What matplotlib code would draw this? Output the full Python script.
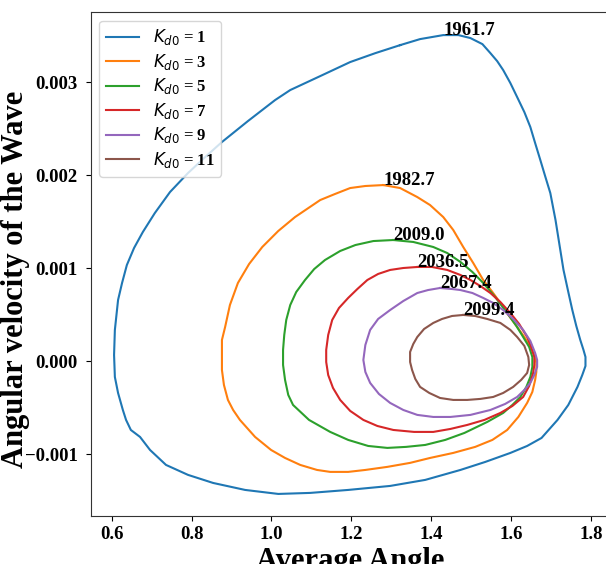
import matplotlib
matplotlib.use("Agg")
import matplotlib.pyplot as plt
import numpy as np

plt.rcParams['font.family'] = ['Liberation Serif', 'DejaVu Serif']

kd0 = [1, 3, 5, 7, 9, 11]
peak_labels = ['1961.7', '1982.7', '2009.0', '2036.5', '2067.4', '2099.4']

# (average angle, angular velocity) points
x1 = [1.322, 1.372, 1.430, 1.468, 1.498, 1.528, 1.548, 1.565, 1.580, 1.598, 1.615, 1.633, 1.648,
      1.660, 1.673, 1.685, 1.698, 1.711, 1.721, 1.731, 1.743, 1.753, 1.763, 1.773, 1.781, 1.786,
      1.786, 1.778, 1.766, 1.743, 1.716, 1.676, 1.640, 1.598, 1.535, 1.473, 1.385, 1.297, 1.192,
      1.097, 1.017, 0.934, 0.854, 0.791, 0.736, 0.696, 0.671, 0.648, 0.636, 0.628, 0.616, 0.608,
      0.606, 0.608, 0.616, 0.626, 0.638, 0.656, 0.678, 0.708, 0.746, 0.791, 0.834, 0.876, 0.941,
      1.009, 1.047, 1.122, 1.197, 1.260, 1.322]
y1 = [0.003398, 0.003463, 0.003506, 0.003506, 0.003474, 0.003409, 0.003312, 0.003226, 0.003130,
      0.002990, 0.002839, 0.002678, 0.002517, 0.002345, 0.002162, 0.001990, 0.001807, 0.001517,
      0.001248, 0.000980, 0.000743, 0.000550, 0.000378, 0.000227, 0.000120, 0.000044, -0.000053,
      -0.000150, -0.000278, -0.000472, -0.000633, -0.000827, -0.000913, -0.000988, -0.001085,
      -0.001171, -0.001278, -0.001343, -0.001386, -0.001418, -0.001429, -0.001386, -0.001311,
      -0.001224, -0.001117, -0.000956, -0.000816, -0.000741, -0.000633, -0.000526, -0.000343,
      -0.000171, 0.000066, 0.000335, 0.000657, 0.000840, 0.001033, 0.001216, 0.001388, 0.001592,
      0.001818, 0.002022, 0.002194, 0.002356, 0.002581, 0.002807, 0.002915, 0.003065, 0.003216,
      0.003312, 0.003398]

x3 = [1.280, 1.322, 1.365, 1.397, 1.430, 1.455, 1.480, 1.505, 1.530, 1.553, 1.573, 1.593, 1.615,
      1.633, 1.648, 1.658, 1.663, 1.663, 1.660, 1.653, 1.640, 1.618, 1.590, 1.553, 1.510, 1.455,
      1.397, 1.347, 1.290, 1.235, 1.192, 1.147, 1.114, 1.072, 1.034, 0.999, 0.959, 0.921, 0.904,
      0.891, 0.881, 0.876, 0.876, 0.876, 0.884, 0.896, 0.916, 0.944, 0.977, 1.017, 1.059, 1.122,
      1.159, 1.197, 1.235, 1.280]
y3 = [0.001893, 0.001861, 0.001764, 0.001678, 0.001549, 0.001410, 0.001227, 0.001055, 0.000872,
      0.000743, 0.000625, 0.000496, 0.000367, 0.000259, 0.000152, 0.000066, -0.000020, -0.000117,
      -0.000203, -0.000332, -0.000450, -0.000601, -0.000741, -0.000848, -0.000923, -0.000988,
      -0.001042, -0.001095, -0.001138, -0.001171, -0.001192, -0.001192, -0.001171, -0.001117,
      -0.001042, -0.000956, -0.000816, -0.000633, -0.000526, -0.000418, -0.000257, -0.000096,
      0.000066, 0.000227, 0.000367, 0.000603, 0.000840, 0.001044, 0.001227, 0.001399, 0.001549,
      0.001732, 0.001797, 0.001861, 0.001883, 0.001893]

x5 = [1.305, 1.355, 1.405, 1.440, 1.473, 1.503, 1.530, 1.560, 1.590, 1.613, 1.630, 1.645, 1.653,
      1.653, 1.648, 1.638, 1.623, 1.603, 1.580, 1.540, 1.483, 1.435, 1.385, 1.337, 1.290, 1.242,
      1.192, 1.147, 1.094, 1.054, 1.042, 1.034, 1.029, 1.029, 1.032, 1.037, 1.047, 1.062, 1.084,
      1.107, 1.134, 1.172, 1.210, 1.255, 1.305]
y5 = [0.001302, 0.001281, 0.001227, 0.001162, 0.001066, 0.000958, 0.000840, 0.000689, 0.000517,
      0.000378, 0.000259, 0.000152, 0.000044, -0.000063, -0.000171, -0.000278, -0.000386,
      -0.000472, -0.000558, -0.000655, -0.000773, -0.000848, -0.000902, -0.000923, -0.000934,
      -0.000913, -0.000848, -0.000762, -0.000633, -0.000472, -0.000364, -0.000203, -0.000042,
      0.000120, 0.000281, 0.000442, 0.000603, 0.000743, 0.000872, 0.000990, 0.001087, 0.001184,
      0.001248, 0.001291, 0.001302]

x7 = [1.365, 1.402, 1.440, 1.473, 1.498, 1.523, 1.548, 1.573, 1.598, 1.620, 1.640, 1.650, 1.658,
      1.658, 1.655, 1.645, 1.630, 1.603, 1.573, 1.533, 1.490, 1.448, 1.405, 1.357, 1.305, 1.265,
      1.230, 1.197, 1.172, 1.154, 1.142, 1.137, 1.137, 1.142, 1.152, 1.169, 1.192, 1.215, 1.240,
      1.267, 1.297, 1.330, 1.365]
y7 = [0.001012, 0.001012, 0.000980, 0.000926, 0.000872, 0.000807, 0.000732, 0.000635, 0.000517,
      0.000399, 0.000259, 0.000152, 0.000044, -0.000042, -0.000128, -0.000268, -0.000386,
      -0.000483, -0.000558, -0.000633, -0.000687, -0.000730, -0.000762, -0.000762, -0.000741,
      -0.000698, -0.000633, -0.000536, -0.000418, -0.000289, -0.000150, -0.000010, 0.000120,
      0.000281, 0.000442, 0.000571, 0.000679, 0.000775, 0.000872, 0.000937, 0.000980, 0.001001,
      0.001012]

x9 = [1.422, 1.452, 1.473, 1.503, 1.530, 1.555, 1.580, 1.605, 1.630, 1.648, 1.660, 1.665, 1.665,
      1.658, 1.648, 1.633, 1.615, 1.585, 1.548, 1.498, 1.448, 1.405, 1.365, 1.330, 1.297, 1.269,
      1.247, 1.235, 1.230, 1.235, 1.247, 1.267, 1.297, 1.330, 1.365, 1.392, 1.422]
y9 = [0.000786, 0.000775, 0.000764, 0.000732, 0.000679, 0.000625, 0.000549, 0.000453, 0.000335,
      0.000216, 0.000087, 0.000012, -0.000063, -0.000149, -0.000235, -0.000311, -0.000386,
      -0.000461, -0.000526, -0.000579, -0.000601, -0.000601, -0.000579, -0.000526, -0.000450,
      -0.000354, -0.000235, -0.000117, 0.000012, 0.000173, 0.000335, 0.000453, 0.000549, 0.000646,
      0.000732, 0.000764, 0.000786]

x11 = [1.480, 1.510, 1.540, 1.573, 1.598, 1.615, 1.633, 1.643, 1.645, 1.640, 1.625, 1.605, 1.580,
       1.555, 1.523, 1.490, 1.455, 1.422, 1.395, 1.372, 1.360, 1.352, 1.347, 1.347, 1.355, 1.365,
       1.382, 1.405, 1.427, 1.452, 1.480]
y11 = [0.000496, 0.000485, 0.000453, 0.000410, 0.000335, 0.000259, 0.000163, 0.000044, -0.000042,
       -0.000128, -0.000203, -0.000278, -0.000343, -0.000386, -0.000407, -0.000418, -0.000418,
       -0.000397, -0.000343, -0.000278, -0.000192, -0.000096, -0.000010, 0.000098, 0.000184,
       0.000259, 0.000345, 0.000410, 0.000453, 0.000485, 0.000496]

xs = [x1, x3, x5, x7, x9, x11]
ys = [y1, y3, y5, y7, y9, y11]

xticks = [0.6, 0.8, 1.0, 1.2, 1.4, 1.6, 1.8]
yticks = [-0.001, 0.000, 0.001, 0.002, 0.003]

fig = plt.figure(figsize=(6.06, 5.64), dpi=100)
ax = fig.add_axes([0.150, 0.085, 0.857, 0.893])

for k, x, y, lab in zip(kd0, xs, ys, peak_labels):
    ax.plot(x, y, lw=1.5, label=r'$K_{d0}$ = %d' % k)
    i = int(np.argmax(y))
    ax.text(x[i], y[i], lab, fontsize=13.5, fontweight='bold', ha='left', va='baseline')

ax.set_xlim(0.548, 1.848)
ax.set_ylim(-0.001667, 0.00375)
ax.set_xticks(xticks)
ax.set_yticks(yticks)
ax.set_xticklabels(['%.1f' % t for t in xticks], fontsize=13.5, fontweight='bold')
ax.set_yticklabels([('%.3f' % t).replace('-', '\u2212') for t in yticks],
                   fontsize=13.5, fontweight='bold')
ax.tick_params(axis='y', pad=6)
for s in ax.spines.values():
    s.set_color('#333333')

ax.set_xlabel('Average Angle', fontsize=22, fontweight='bold', labelpad=3)
ax.set_ylabel('Angular velocity of the Wave', fontsize=22, fontweight='bold')
ax.yaxis.set_label_coords(-0.118, 0.47)
ax.legend(loc='upper left', prop={'weight': 'bold', 'size': 12}, labelspacing=0.27)

fig.savefig('out.png', dpi=100)
